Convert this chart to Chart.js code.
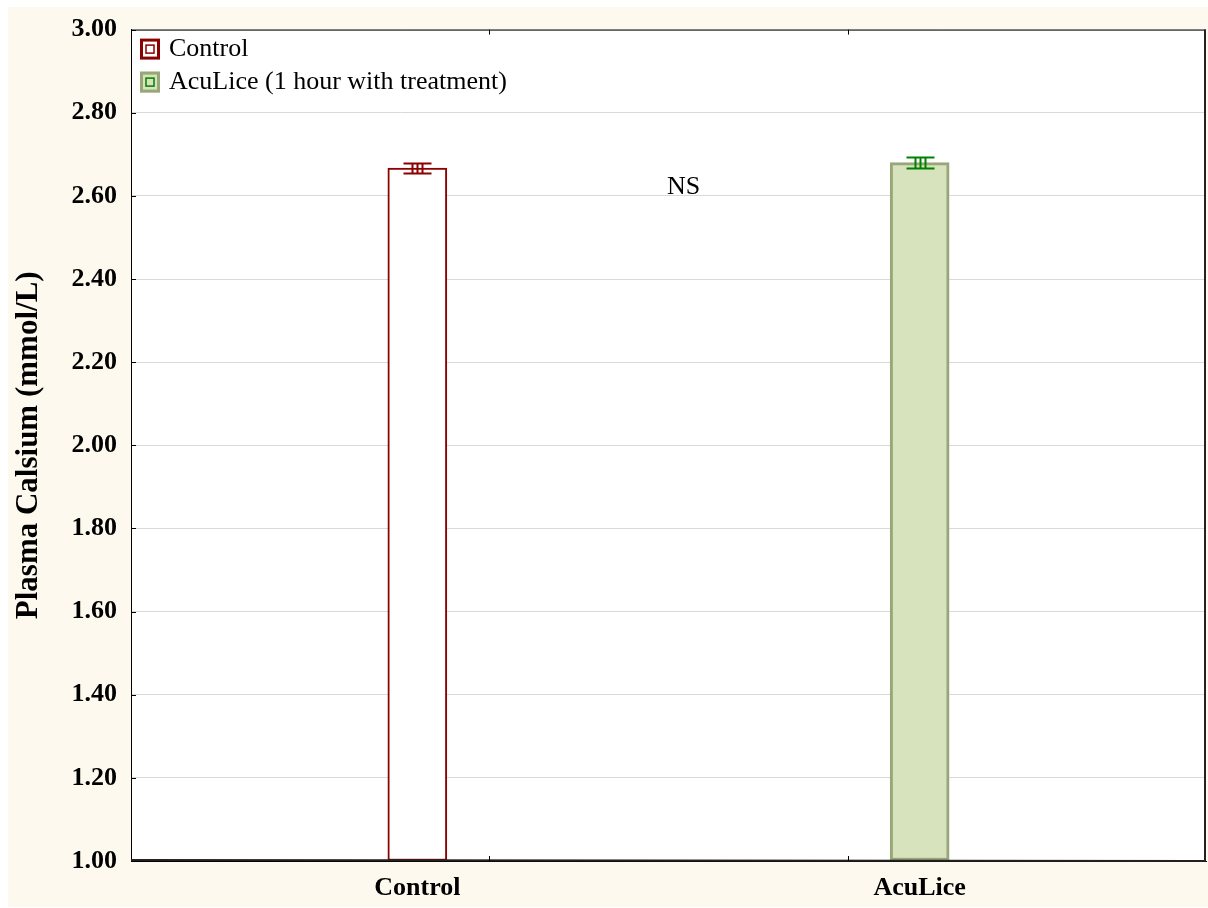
<!DOCTYPE html>
<html>
<head>
<meta charset="utf-8">
<script src="https://cdn.jsdelivr.net/npm/chart.js@4"></script>
<style>
  body { margin: 0; background: #ffffff; }
  canvas { display: block; }
</style>
</head>
<body>
<canvas id="calciumChart" width="1208" height="908"></canvas>
<script>
// chart data
const categories = ['Control', 'AcuLice'];
const legendLabels = ['Control', 'AcuLice (1 hour with treatment)'];
const categoryPositions = [1, 2];
const means = [2.667, 2.680];
const errors = [0.013, 0.014];
const yTicks = [1.0, 1.2, 1.4, 1.6, 1.8, 2.0, 2.2, 2.4, 2.6, 2.8, 3.0];
const nsLabel = 'NS';
const nsPosition = [1.53, 2.622];

const serif = "'Liberation Serif', 'Times New Roman', serif";
const fillColors = ['#ffffff', '#d7e3bc'];
const borderColors = ['#8b0000', '#98a67a'];
const errorColors = ['#8b0000', '#008000'];
const innerColors = ['#8b0000', '#008000'];

// cream page + white plot area
const backgroundPlugin = {
  id: 'background',
  beforeDraw(chart) {
    const ctx = chart.ctx;
    const a = chart.chartArea;
    ctx.save();
    ctx.fillStyle = '#fdf9ee';
    ctx.fillRect(8, 7, chart.width - 8, chart.height - 8);
    ctx.fillStyle = '#ffffff';
    ctx.fillRect(a.left, a.top, a.right - a.left, a.bottom - a.top);
    ctx.restore();
  }
};

// whisker boxes, frame, inner ticks, NS text, legend
const decorPlugin = {
  id: 'decor',
  afterDatasetsDraw(chart) {
    const ctx = chart.ctx;
    const y = chart.scales.y;
    ctx.save();
    chart.data.datasets.forEach((ds, i) => {
      const bar = chart.getDatasetMeta(i).data[0];
      const cx = Math.round(bar.x) + 0.5;
      const yHi = Math.round(y.getPixelForValue(means[i] + errors[i])) + 0.5;
      const yLo = Math.round(y.getPixelForValue(means[i] - errors[i])) + 0.5;
      ctx.strokeStyle = errorColors[i];
      ctx.lineWidth = 2;
      ctx.beginPath();
      ctx.moveTo(cx - 14, yHi); ctx.lineTo(cx + 14, yHi);
      ctx.moveTo(cx - 14, yLo); ctx.lineTo(cx + 14, yLo);
      ctx.moveTo(cx - 5, yHi); ctx.lineTo(cx - 5, yLo);
      ctx.moveTo(cx, yHi); ctx.lineTo(cx, yLo);
      ctx.moveTo(cx + 5, yHi); ctx.lineTo(cx + 5, yLo);
      ctx.stroke();
    });
    ctx.restore();
  },
  afterDraw(chart) {
    const ctx = chart.ctx;
    const a = chart.chartArea;
    const x = chart.scales.x;
    const y = chart.scales.y;
    ctx.save();

    // frame
    ctx.strokeStyle = '#000000';
    ctx.lineWidth = 1;
    ctx.strokeRect(a.left + 0.5, a.top + 0.5, a.right - a.left - 1, a.bottom - a.top - 1);
    ctx.lineWidth = 2;
    ctx.strokeStyle = '#222222';
    ctx.beginPath();
    ctx.moveTo(a.right - 1, a.top);
    ctx.lineTo(a.right - 1, a.bottom);
    ctx.lineTo(a.left, a.bottom - 1);
    ctx.stroke();

    // inner tick marks
    ctx.lineWidth = 1;
    ctx.strokeStyle = '#000000';
    ctx.beginPath();
    yTicks.forEach(v => {
      const py = Math.round(y.getPixelForValue(v)) + 0.5;
      ctx.moveTo(a.left, py); ctx.lineTo(a.left + 5, py);
    });
    [1, 2].forEach(k => {
      const px = Math.round(a.left + (a.right - a.left) * k / 3) + 0.5;
      ctx.moveTo(px, a.top); ctx.lineTo(px, a.top + 5);
      ctx.moveTo(px, a.bottom); ctx.lineTo(px, a.bottom - 5);
    });
    ctx.stroke();

    // NS label
    ctx.fillStyle = '#000000';
    ctx.font = '26px ' + serif;
    ctx.textAlign = 'center';
    ctx.textBaseline = 'middle';
    ctx.fillText(nsLabel, x.getPixelForValue(nsPosition[0]), y.getPixelForValue(nsPosition[1]));

    // legend
    ctx.textAlign = 'left';
    legendLabels.forEach((label, i) => {
      const cy = a.top + 19 + i * 33;
      const bx = a.left + 9;
      ctx.fillStyle = fillColors[i];
      ctx.fillRect(bx, cy - 10, 20, 21);
      ctx.strokeStyle = borderColors[i];
      ctx.lineWidth = 3;
      ctx.strokeRect(bx + 1.5, cy - 8.5, 17, 18);
      ctx.strokeStyle = innerColors[i];
      ctx.lineWidth = 1.5;
      ctx.strokeRect(bx + 6, cy - 3.5, 8, 8);
      ctx.fillStyle = '#000000';
      ctx.fillText(label, bx + 29, cy + 1);
    });
    ctx.restore();
  }
};

new Chart(document.getElementById('calciumChart'), {
  type: 'bar',
  data: {
    datasets: categories.map((name, i) => ({
      label: legendLabels[i],
      data: [{ x: categoryPositions[i], y: means[i] }],
      backgroundColor: fillColors[i],
      borderColor: borderColors[i],
      borderWidth: i === 0 ? 2 : 3,
      borderSkipped: false,
      base: 1
    }))
  },
  options: {
    responsive: false,
    animation: false,
    devicePixelRatio: 1,
    grouped: false,
    barThickness: 59,
    layout: { padding: { top: 29, right: 2, left: 0, bottom: 0 } },
    plugins: {
      legend: { display: false },
      tooltip: { enabled: false }
    },
    scales: {
      x: {
        type: 'linear',
        offset: false,
        min: 0.43,
        max: 2.57,
        afterBuildTicks(scale) {
          scale.ticks = categoryPositions.map(v => ({ value: v }));
        },
        afterFit(scale) { scale.height = 47; },
        grid: { display: false, drawTicks: false, offset: false },
        border: { display: true, color: '#000000' },
        ticks: {
          padding: 12,
          color: '#000000',
          font: { family: serif, size: 26, weight: 'bold' },
          callback: v => categories[categoryPositions.indexOf(v)]
        }
      },
      y: {
        min: 1,
        max: 3,
        afterBuildTicks(scale) {
          scale.ticks = yTicks.map(v => ({ value: v }));
        },
        afterFit(scale) { scale.width = 131; },
        grid: { color: '#d9d9d9', drawTicks: false },
        border: { display: true, color: '#000000' },
        ticks: {
          padding: 14,
          color: '#000000',
          font: { family: serif, size: 26, weight: 'bold' },
          callback: v => v.toFixed(2)
        },
        title: {
          display: true,
          text: 'Plasma Calsium (mmol/L)',
          color: '#000000',
          padding: { top: 10, bottom: 0 },
          font: { family: serif, size: 31, weight: 'bold' }
        }
      }
    }
  },
  plugins: [backgroundPlugin, decorPlugin]
});
</script>
</body>
</html>
